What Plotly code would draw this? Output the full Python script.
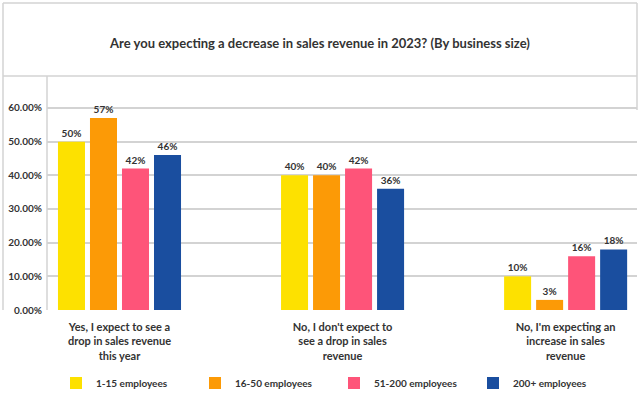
import plotly.graph_objects as go

categories = [
    "Yes, I expect to see a<br>drop in sales revenue<br>this year",
    "No, I don't expect to<br>see a drop in sales<br>revenue",
    "No, I'm expecting an<br>increase in sales<br>revenue",
]
series_names = ["1-15 employees", "16-50 employees", "51-200 employees", "200+ employees"]
series_values = [
    [50, 40, 10],
    [57, 40, 3],
    [42, 42, 16],
    [46, 36, 18],
]
colors = ["#FDE100", "#FC9A06", "#FE5479", "#1A4E9F"]
y_tick_vals = [0, 10, 20, 30, 40, 50, 60]
y_tick_text = ["0.00%", "10.00%", "20.00%", "30.00%", "40.00%", "50.00%", "60.00%"]
title_text = "Are you expecting a decrease in sales revenue in 2023? (By business size)"

W, H = 640, 403
L, R, T, B = 47, 3, 76, 93
pw, ph = W - L - R, H - T - B

FONT = "Lato"
TXT = "#333333"
GRID = "#d3d3d3"

fig = go.Figure()
xpos = list(range(len(categories)))
for name, vals, col in zip(series_names, series_values, colors):
    fig.add_trace(go.Bar(
        x=xpos, y=vals, name=name, marker=dict(color=col, line=dict(width=0)),
        text=[f"{v}%" for v in vals], textposition="outside",
        textfont=dict(family=FONT, size=10, color=TXT, weight="bold"),
        cliponaxis=False,
    ))

def px_x(p):
    return (p - L) / pw

def px_y(p):
    return (H - B - p) / ph

shapes = []
line = dict(color=GRID, width=1.5)
shapes.append(dict(type="line", xref="paper", yref="paper", x0=px_x(3), x1=px_x(637), y0=px_y(3), y1=px_y(3), line=line))
shapes.append(dict(type="line", xref="paper", yref="paper", x0=px_x(3), x1=px_x(3), y0=px_y(3), y1=px_y(310), line=line))
shapes.append(dict(type="line", xref="paper", yref="paper", x0=px_x(637), x1=px_x(637), y0=px_y(3), y1=px_y(110), line=line))
shapes.append(dict(type="line", xref="paper", yref="paper", x0=px_x(3), x1=px_x(637), y0=px_y(76), y1=px_y(76), line=line))
shapes.append(dict(type="line", xref="paper", yref="paper", x0=0, x1=0, y0=px_y(76), y1=px_y(310), line=line))

fig.update_layout(
    width=W, height=H,
    margin=dict(l=L, r=R, t=T, b=B, pad=0, autoexpand=False),
    paper_bgcolor="white", plot_bgcolor="white",
    barmode="group", bargap=0.426, bargroupgap=0.156,
    font=dict(family=FONT, color=TXT),
    title=dict(text=title_text, x=0.5, xanchor="center", y=1 - 43 / H, yanchor="middle",
               font=dict(family=FONT, size=13, color=TXT, weight="bold")),
    xaxis=dict(range=[-0.325, 2.32], tickmode="array", tickvals=xpos, ticktext=categories,
               showgrid=False, zeroline=False, showline=False, ticks="", ticklabelstandoff=9,
               automargin=False,
               tickfont=dict(family=FONT, size=11, color=TXT, weight="bold")),
    yaxis=dict(range=[0, 69.5], tickmode="array", tickvals=y_tick_vals, ticktext=y_tick_text,
               showgrid=True, gridcolor=GRID, gridwidth=1.5, zeroline=False, showline=False,
               ticks="", ticklabelstandoff=4, automargin=False,
               tickfont=dict(family=FONT, size=10, color=TXT, weight="bold")),
    legend=dict(orientation="h", x=px_x(334), xanchor="center", y=px_y(383), yanchor="middle",
                entrywidth=94, entrywidthmode="pixels", traceorder="normal",
                font=dict(family=FONT, size=10, color=TXT, weight="bold")),
    shapes=shapes,
    showlegend=True,
)

fig.write_html("out.html")
